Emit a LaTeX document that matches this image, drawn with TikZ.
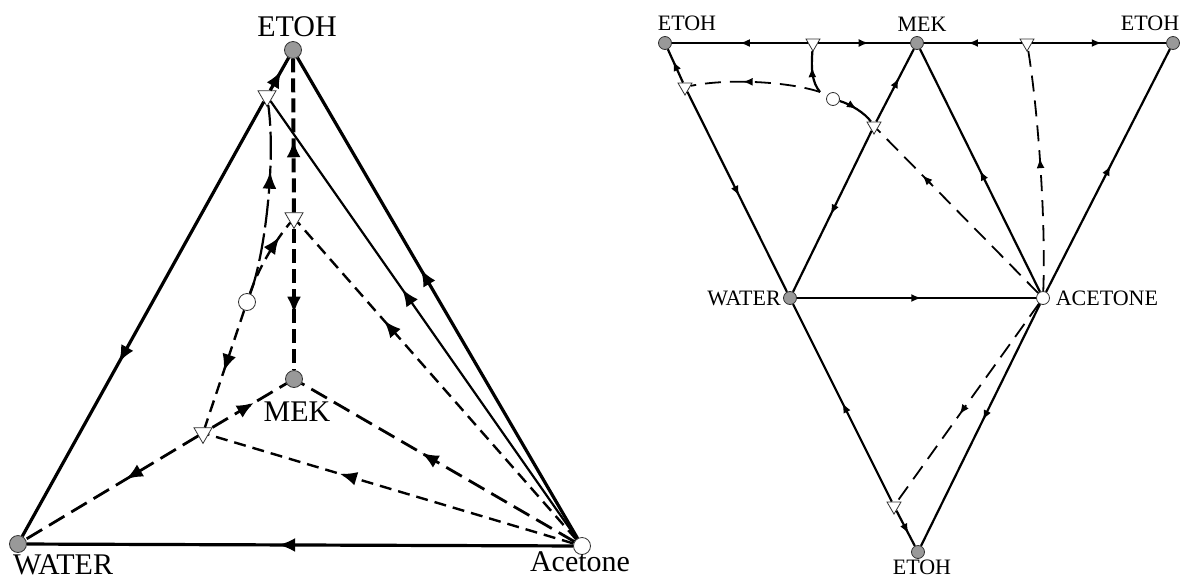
\documentclass[tikz,border=0pt]{standalone}
\usepackage{fontspec}
\setmainfont{Liberation Serif}
\usetikzlibrary{arrows.meta,decorations.markings,shapes.geometric,positioning}
\begin{document}
\begin{tikzpicture}[x=0.5pt,y=-0.5pt,every node/.style={inner sep=1pt}]
\tikzset{
 stab/.style={circle,draw=black!80,fill=black!40,inner sep=0pt,minimum size=#1},
 unst/.style={circle,draw=black!80,fill=white,inner sep=0pt,minimum size=#1},
 sadl/.style={regular polygon,regular polygon sides=3,shape border rotate=180,draw=black!80,fill=white,inner sep=0pt,minimum size=#1},
 arr/.style={postaction={decorate,decoration={markings,mark=at position #1 with {\arrow{Latex[length=8.5pt,width=7pt]}}}}},
 sarr/.style={postaction={decorate,decoration={markings,mark=at position #1 with {\arrow{Latex[length=5pt,width=4pt]}}}}},
 bigtxt/.style={font=\fontsize{15}{17}\selectfont},
 smalltxt/.style={font=\fontsize{11}{13}\selectfont}
}
\tikzstyle{thk}=[line width=1.6pt]
\tikzstyle{thn}=[line width=1.1pt]
\tikzstyle{vdash}=[line width=2pt,dash pattern=on 7pt off 3pt]
\tikzstyle{ldash}=[line width=1.4pt,dash pattern=on 9pt off 4pt]
\tikzstyle{mdash}=[line width=1.2pt,dash pattern=on 6pt off 3.5pt]
\tikzstyle{xdash}=[line width=1.1pt,dash pattern=on 14pt off 3pt]
\tikzstyle{rline}=[line width=1.1pt]
\tikzstyle{rdash}=[line width=0.9pt,dash pattern=on 8pt off 4.5pt]
\useasboundingbox (0,0) rectangle (1180,579);

\node[stab=8.5pt](lE) at (293,50){};
\node[stab=8.5pt](lW) at (18,544){};
\node[unst=8.5pt](lA) at (582,546){};
\node[stab=8.5pt](lM) at (294,379){};
\node[sadl=10.4pt](lS1) at (267,96){};
\node[sadl=10.4pt](lS2) at (294,218){};
\node[sadl=10.4pt](lS3) at (203,433){};
\node[unst=8.5pt](lU) at (247,302){};

\node[bigtxt,below=-0.5pt of lW,xshift=22.5pt](lWt){WATER};
\node[bigtxt,above=1pt of lE,xshift=2pt](lEt){ETOH};
\node[bigtxt,below=-3pt of lA,xshift=-1pt](lAt){Acetone};
\node[bigtxt,below=6pt of lM,xshift=1.5pt](lMt){MEK};

\draw[thk,arr=0.6](lS1)--(lW);
\draw[thk,arr=0.6](lS1)--(lE);
\draw[thk,arr=0.56](lA)--(lE);
\draw[thk,arr=0.54](lA)--(lW);
\draw[thn,arr=0.57](lA)--(lS1);
\draw[vdash,arr=0.47](lS2)--(lE);
\draw[vdash,arr=0.6](lS2)--(lM);
\draw[mdash,arr=0.69](lA)--(lS2);
\draw[ldash,arr=0.56](lA)--(lM);
\draw[mdash,arr=0.64](lA)--(lS3);
\draw[ldash,arr=0.56](lS3)--(lM);
\draw[ldash,arr=0.42](lS3)--(lW);
\draw[mdash,arr=0.52](lU)--(lS3);
\draw[mdash,arr=0.78](lU) .. controls (258,270) and (272,245) .. (lS2);
\draw[xdash,arr=0.65](lU) .. controls (265,255) and (276,160) .. (lS1);

\node[stab=6.5pt](rE1) at (665,43){};
\node[stab=6.5pt](rM) at (917,43){};
\node[stab=6.5pt](rE2) at (1173,43){};
\node[stab=6.5pt](rW) at (790,298){};
\node[unst=6.5pt](rA) at (1043,298){};
\node[stab=6.5pt](rE3) at (918,552){};
\node[sadl=8.1pt](rS1) at (813,43){};
\node[sadl=8.1pt](rS2) at (1027,43){};
\node[sadl=8.1pt](rS3) at (685,87){};
\node[sadl=8.1pt](rS4) at (874,126){};
\node[sadl=8.1pt](rS5) at (894,506){};
\node[unst=6.5pt](rU) at (833,99){};
\coordinate(rJ) at (820,92);

\node[smalltxt,above=1.25pt of rE1,xshift=11pt](rE1t){ETOH};
\node[smalltxt,above=1.25pt of rM,xshift=2.5pt](rMt){MEK};
\node[smalltxt,above=1.25pt of rE2,xshift=-11.5pt](rE2t){ETOH};
\node[smalltxt,left=0pt of rW](rWt){WATER};
\node[smalltxt,right=1.75pt of rA](rAt){ACETONE};
\node[smalltxt,below=-0.5pt of rE3,xshift=2pt](rE3t){ETOH};

\draw[rline,sarr=0.5](rS1)--(rE1);
\draw[rline,sarr=0.55](rS1)--(rM);
\draw[rline,sarr=0.55](rS2)--(rM);
\draw[rline,sarr=0.52](rS2)--(rE2);
\draw[rline,sarr=0.65](rS3)--(rE1);
\draw[rline,sarr=0.52](rS3)--(rW);
\draw[rline,sarr=0.6](rS4)--(rM);
\draw[rline,sarr=0.52](rS4)--(rW);
\draw[rline,sarr=0.5](rA)--(rM);
\draw[rline,sarr=0.52](rA)--(rE2);
\draw[rline,sarr=0.52](rW)--(rA);
\draw[rline,sarr=0.48](rA)--(rE3);
\draw[rline,sarr=0.5](rS5)--(rW);
\draw[rline,sarr=0.65](rS5)--(rE3);
\draw[rdash,sarr=0.56](rA)--(rS5);
\draw[rdash,sarr=0.55](rA) .. controls (1046,220) and (1038,110) .. (rS2);
\draw[rdash,sarr=0.72](rA)--(rS4);
\draw[rline,sarr=0.5](rU) .. controls (850,104) and (865,113) .. (rS4);
\draw[rdash,sarr=0.6](rJ) .. controls (790,82) and (730,78) .. (rS3);
\draw[rline,sarr=0.62](rJ) .. controls (812,82) and (811,70) .. (rS1);
\end{tikzpicture}
\end{document}
